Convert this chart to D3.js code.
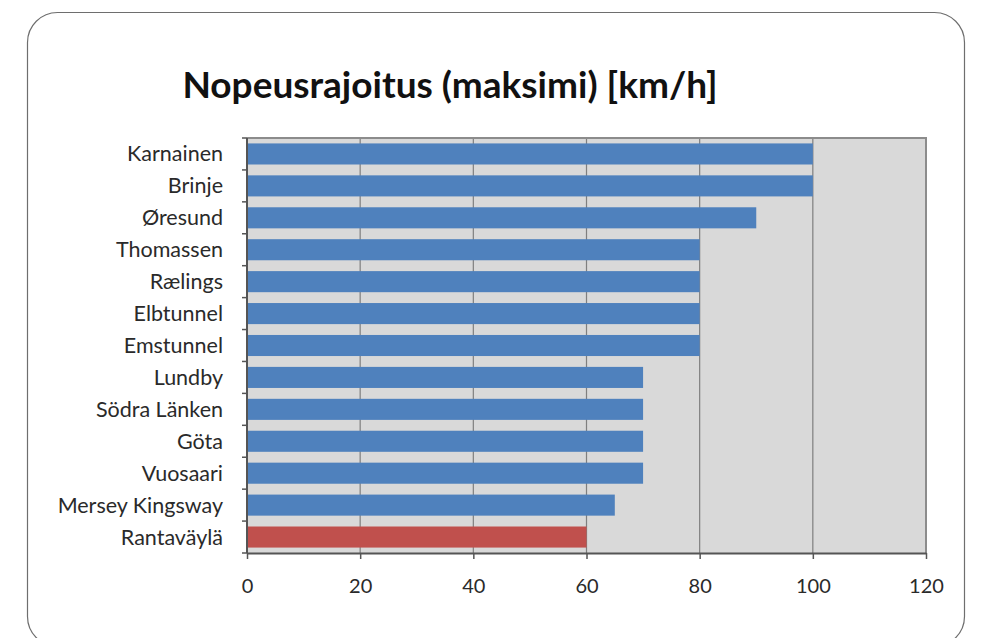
<!DOCTYPE html>
<html>
<head>
<meta charset="utf-8">
<script src="https://cdn.jsdelivr.net/npm/d3@7"></script>
<style>
  html, body { margin: 0; padding: 0; background: #ffffff; }
  svg { display: block; }
</style>
</head>
<body>
<svg id="chart" width="986" height="638"></svg>
<script>
// Tunnel names (top to bottom) and their maximum speed limits in km/h
const tunnels = ["Karnainen", "Brinje", "Øresund", "Thomassen", "Rælings", "Elbtunnel",
  "Emstunnel", "Lundby", "Södra Länken", "Göta", "Vuosaari", "Mersey Kingsway", "Rantaväylä"];
const speedLimits = [100, 100, 90, 80, 80, 80, 80, 70, 70, 70, 70, 65, 60];
const highlighted = ["Rantaväylä"];
const xTicks = [0, 20, 40, 60, 80, 100, 120];
const title = "Nopeusrajoitus (maksimi) [km/h]";

const svg = d3.select("#chart");
const font = "Lato, 'Open Sans', sans-serif";

// Rounded frame around the chart
svg.append("rect")
  .attr("x", 27.5).attr("y", 12.5)
  .attr("width", 937).attr("height", 634)
  .attr("rx", 30).attr("ry", 30)
  .attr("fill", "#ffffff")
  .attr("stroke", "#6e6e6e").attr("stroke-width", 1.2);

const plot = { left: 247, right: 926, top: 138, bottom: 553 };

const x = d3.scaleLinear().domain([0, 120]).range([plot.left, plot.right]);
const y = d3.scaleBand().domain(tunnels).range([plot.top, plot.bottom]).paddingInner(0.34).paddingOuter(0.17);

// Plot background
svg.append("rect")
  .attr("x", plot.left).attr("y", plot.top)
  .attr("width", plot.right - plot.left).attr("height", plot.bottom - plot.top)
  .attr("fill", "#d9d9d9");

// Vertical gridlines
svg.append("g")
  .selectAll("line")
  .data(xTicks.slice(1, -1))
  .join("line")
  .attr("x1", d => x(d)).attr("x2", d => x(d))
  .attr("y1", plot.top).attr("y2", plot.bottom)
  .attr("stroke", "#7f7f7f").attr("stroke-width", 1.2);

// Plot border on top and right
svg.append("path")
  .attr("d", `M${plot.left},${plot.top}H${plot.right}V${plot.bottom}`)
  .attr("fill", "none")
  .attr("stroke", "#8c8c8c").attr("stroke-width", 2);

// Bars
svg.append("g")
  .selectAll("rect")
  .data(tunnels.map((t, i) => ({ name: t, value: speedLimits[i] })))
  .join("rect")
  .attr("x", x(0))
  .attr("y", d => y(d.name))
  .attr("width", d => x(d.value) - x(0))
  .attr("height", y.bandwidth())
  .attr("fill", d => highlighted.includes(d.name) ? "#c0504d" : "#4f81bd");

// X axis
const xAxis = svg.append("g")
  .attr("transform", `translate(0,${plot.bottom})`)
  .call(d3.axisBottom(x).tickValues(xTicks).tickSize(6).tickPadding(20).tickSizeOuter(0));
xAxis.select(".domain").attr("stroke", "#555555").attr("stroke-width", 2);
xAxis.selectAll(".tick line").attr("stroke", "#555555").attr("stroke-width", 1.5);
xAxis.selectAll(".tick text")
  .attr("font-family", font).attr("font-size", 20).attr("fill", "#2a2a2a");

// Y axis: tick marks sit on category boundaries
const yAxisG = svg.append("g").attr("transform", `translate(${plot.left},0)`);
yAxisG.append("line")
  .attr("x1", 0).attr("x2", 0)
  .attr("y1", plot.top).attr("y2", plot.bottom)
  .attr("stroke", "#555555").attr("stroke-width", 2);
yAxisG.selectAll("line.bound")
  .data(d3.range(tunnels.length + 1))
  .join("line")
  .attr("class", "bound")
  .attr("x1", -5).attr("x2", 0)
  .attr("y1", i => plot.top + i * (plot.bottom - plot.top) / tunnels.length)
  .attr("y2", i => plot.top + i * (plot.bottom - plot.top) / tunnels.length)
  .attr("stroke", "#555555").attr("stroke-width", 1.5);
yAxisG.selectAll("text")
  .data(tunnels)
  .join("text")
  .attr("x", -24)
  .attr("y", d => y(d) + y.bandwidth() / 2)
  .attr("dy", "0.35em")
  .attr("text-anchor", "end")
  .attr("font-family", font).attr("font-size", 21.5).attr("fill", "#2a2a2a")
  .text(d => d);

// Title
svg.append("text")
  .attr("x", 450).attr("y", 98)
  .attr("text-anchor", "middle")
  .attr("font-family", font).attr("font-weight", "bold").attr("font-size", 37)
  .attr("fill", "#111111")
  .text(title);
</script>
</body>
</html>
